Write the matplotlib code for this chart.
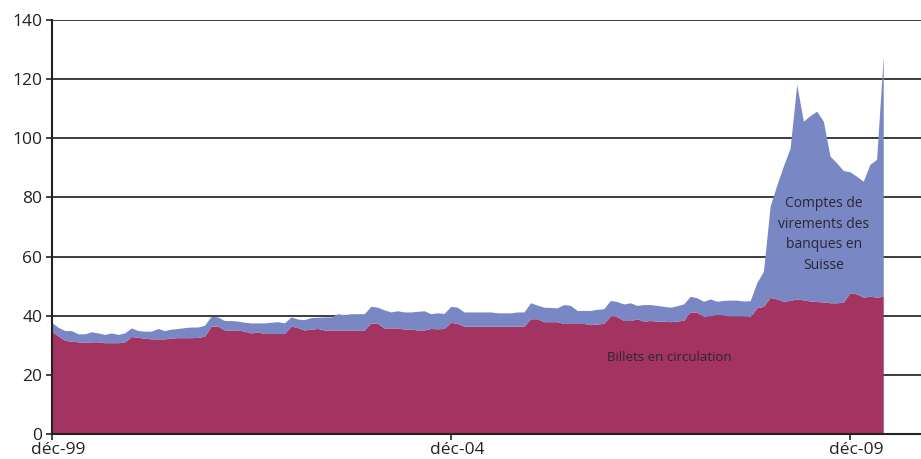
import numpy as np
import matplotlib.pyplot as plt
import matplotlib.transforms as mtransforms

# monthly values, Dec 1999 .. May 2010 (milliards de francs)
billets = [
    34.5, 33.0, 31.5, 31.2, 31.0, 30.8, 31.0, 31.0, 30.7, 30.7, 30.7, 31.0,
    32.8, 32.5, 32.2, 32.0, 32.0, 32.0, 32.3, 32.4, 32.4, 32.4, 32.5, 32.9,
    36.3, 36.3, 35.0, 35.0, 35.0, 34.6, 34.0, 34.4, 33.8, 33.8, 33.8, 33.8,
    36.3, 35.8, 35.0, 35.3, 35.5, 35.0, 35.0, 35.0, 35.0, 35.0, 35.0, 35.0,
    37.4, 37.2, 35.7, 35.7, 35.7, 35.3, 35.3, 35.0, 35.0, 35.5, 35.4, 35.5,
    37.6, 37.2, 36.3, 36.3, 36.3, 36.3, 36.3, 36.3, 36.3, 36.3, 36.3, 36.3,
    38.8, 38.8, 37.8, 37.8, 37.8, 37.2, 37.2, 37.2, 37.2, 36.8, 37.0, 37.3,
    39.7, 39.5, 38.2, 38.2, 38.8, 38.0, 38.2, 38.0, 38.0, 37.8, 38.0, 38.3,
    41.1, 41.0, 39.5, 39.8, 40.2, 40.0, 39.7, 39.7, 39.7, 39.5, 42.5, 43.0,
    46.0, 45.5, 44.7, 45.0, 45.5, 45.2, 44.8, 44.6, 44.5, 44.2, 44.2, 44.4,
    47.6, 47.2, 46.1, 46.4, 46.1, 46.4,
]
comptes = [
    3.1, 2.9, 3.3, 3.6, 2.7, 2.9, 3.4, 3.0, 2.8, 3.3, 2.8, 3.0,
    2.9, 2.3, 2.4, 2.6, 3.5, 2.8, 3.0, 3.1, 3.4, 3.6, 3.5, 3.7,
    3.4, 3.1, 3.2, 3.2, 3.0, 3.0, 3.4, 3.0, 3.6, 3.8, 4.0, 3.6,
    3.1, 2.9, 3.5, 3.9, 3.8, 4.4, 4.4, 5.5, 5.2, 5.5, 5.5, 5.5,
    5.6, 5.5, 6.1, 5.4, 5.8, 5.8, 5.8, 6.3, 6.5, 5.0, 5.4, 5.1,
    5.4, 5.5, 4.8, 4.8, 4.8, 4.8, 4.8, 4.5, 4.5, 4.5, 4.8, 4.8,
    5.4, 4.6, 4.9, 4.8, 4.7, 6.4, 6.1, 4.4, 4.4, 4.8, 5.0, 4.9,
    5.3, 5.1, 5.6, 6.0, 4.5, 5.6, 5.4, 5.3, 5.0, 4.9, 5.2, 5.5,
    5.3, 4.9, 5.2, 5.7, 4.5, 5.0, 5.4, 5.4, 5.1, 5.4, 8.5, 11.9,
    30.9, 38.5, 45.8, 51.5, 72.5, 60.4, 62.7, 64.4, 61.1, 49.6, 47.3, 44.5,
    40.9, 39.8, 39.2, 44.6, 46.6, 81.2,
]
tick_pos = [0, 60, 120]
tick_labels = ['déc-99', 'déc-04', 'déc-09']

red = '#a33360'
blue = '#7987c5'
txt = '#2b2633'

plt.rcParams['font.family'] = ['Open Sans', 'DejaVu Sans']

x = np.arange(len(billets))
fig = plt.figure(figsize=(9.21, 4.59), dpi=100)
ax = fig.add_axes([0.0565, 0.0545, 0.9435, 0.902])

ax.stackplot(x, billets, comptes, colors=[red, blue], linewidth=0, zorder=3)

ax.set_ylim(0, 140)
ax.set_xlim(0, 130.6)
ax.set_yticks(range(0, 141, 20))
ax.yaxis.grid(True, color='#3c3c3c', linewidth=1.4, zorder=0)
ax.set_axisbelow(True)
for s in ['top', 'right']:
    ax.spines[s].set_visible(False)
for s in ['left', 'bottom']:
    ax.spines[s].set_linewidth(1.5)
    ax.spines[s].set_color('#222222')
    ax.spines[s].set_zorder(4)

ax.set_xticks(tick_pos)
ax.set_xticklabels(tick_labels)
ax.tick_params(axis='both', labelsize=12.5, colors='#222222', length=4, width=1.2)
ax.tick_params(axis='x', pad=2)
ax.tick_params(axis='y', pad=3)
off = mtransforms.ScaledTranslation(6 / 100, 0, fig.dpi_scale_trans)
for lab in ax.get_xticklabels():
    lab.set_transform(lab.get_transform() + off)

ax.text(92.8, 26, 'Billets en circulation', fontsize=9.5, color=txt,
        ha='center', va='center', zorder=5)
ax.text(116, 67.5, 'Comptes de\nvirements des\nbanques en\nSuisse', fontsize=10,
        color=txt, ha='center', va='center', linespacing=1.5, zorder=5)

fig.savefig('out.png', dpi=100)
